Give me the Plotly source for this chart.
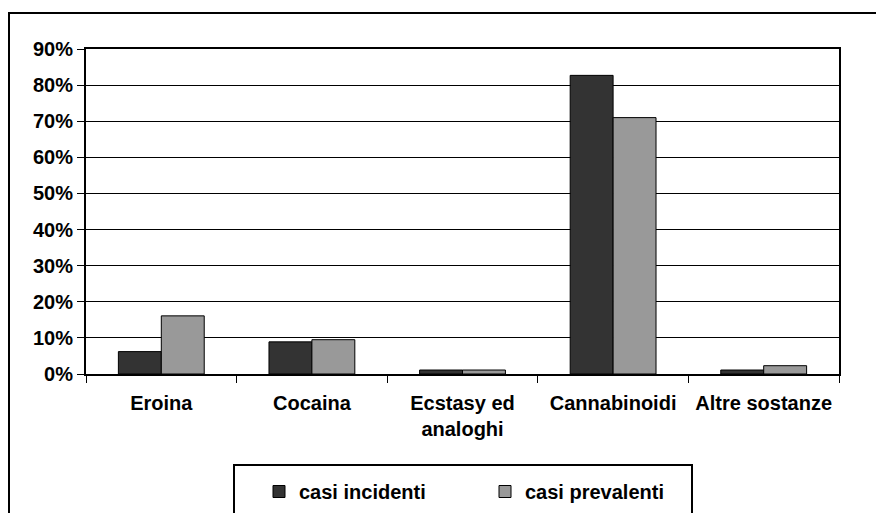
import plotly.graph_objects as go

# data (percent)
categorie = ["Eroina", "Cocaina", "Ecstasy ed<br>analoghi", "Cannabinoidi", "Altre sostanze"]
casi_incidenti = [6.2, 8.9, 1.1, 82.7, 1.1]
casi_prevalenti = [16.1, 9.5, 1.1, 71.0, 2.3]
y_ticks = list(range(0, 100, 10))
y_labels = [f"{v}%" for v in y_ticks]

W, H = 884, 513
OFF = 8  # page body margin in the browser
# plot area in screen pixels (as seen in the reference)
X0, X1, Y0, Y1 = 86, 839, 49, 374
L, R, T, B = X0 - OFF, W - (X1 - OFF), Y0 - OFF, H - (Y1 - OFF)
pw, ph = X1 - X0, Y1 - Y0

def px_x(x):
    return (x - X0) / pw

def px_y(y):
    return (Y1 - y) / ph

font = dict(family="Arial, Liberation Sans, sans-serif", size=20, color="black", weight="bold")

fig = go.Figure()
fig.add_trace(go.Bar(x=categorie, y=casi_incidenti, name="casi incidenti",
                     marker=dict(color="#333333", line=dict(color="black", width=1))))
fig.add_trace(go.Bar(x=categorie, y=casi_prevalenti, name="casi prevalenti",
                     marker=dict(color="#999999", line=dict(color="black", width=1))))

fig.update_layout(
    width=W, height=H,
    margin=dict(l=L, r=R, t=T, b=B, autoexpand=False),
    paper_bgcolor="white", plot_bgcolor="white",
    font=font,
    barmode="group", bargap=0.43, bargroupgap=0,
    legend=dict(orientation="h", x=px_x(259), y=px_y(472), xanchor="left", yanchor="top",
                bgcolor="rgba(0,0,0,0)", borderwidth=0, font=font,
                entrywidth=181, traceorder="normal"),
)

fig.update_xaxes(showline=True, linecolor="black", linewidth=2, mirror=True,
                 tickson="boundaries", ticks="outside", ticklen=7, tickcolor="black",
                 tickwidth=1, tickfont=font, showgrid=False, ticklabelstandoff=10)
fig.update_yaxes(range=[0, 90], tickvals=y_ticks, ticktext=y_labels, showline=True,
                 linecolor="black", linewidth=2, mirror=True, ticks="outside",
                 ticklen=7, tickcolor="black", tickwidth=1, tickfont=font,
                 showgrid=True, gridcolor="black", gridwidth=1, zeroline=False)

# outer chart border and legend box
fig.add_shape(type="rect", xref="paper", yref="paper",
              x0=px_x(9), x1=px_x(895), y0=px_y(530), y1=px_y(13),
              line=dict(color="black", width=2), layer="below")
fig.add_shape(type="rect", xref="paper", yref="paper",
              x0=px_x(234), x1=px_x(692), y0=px_y(530), y1=px_y(465),
              line=dict(color="black", width=2), layer="below")

fig.write_html("out.html")
